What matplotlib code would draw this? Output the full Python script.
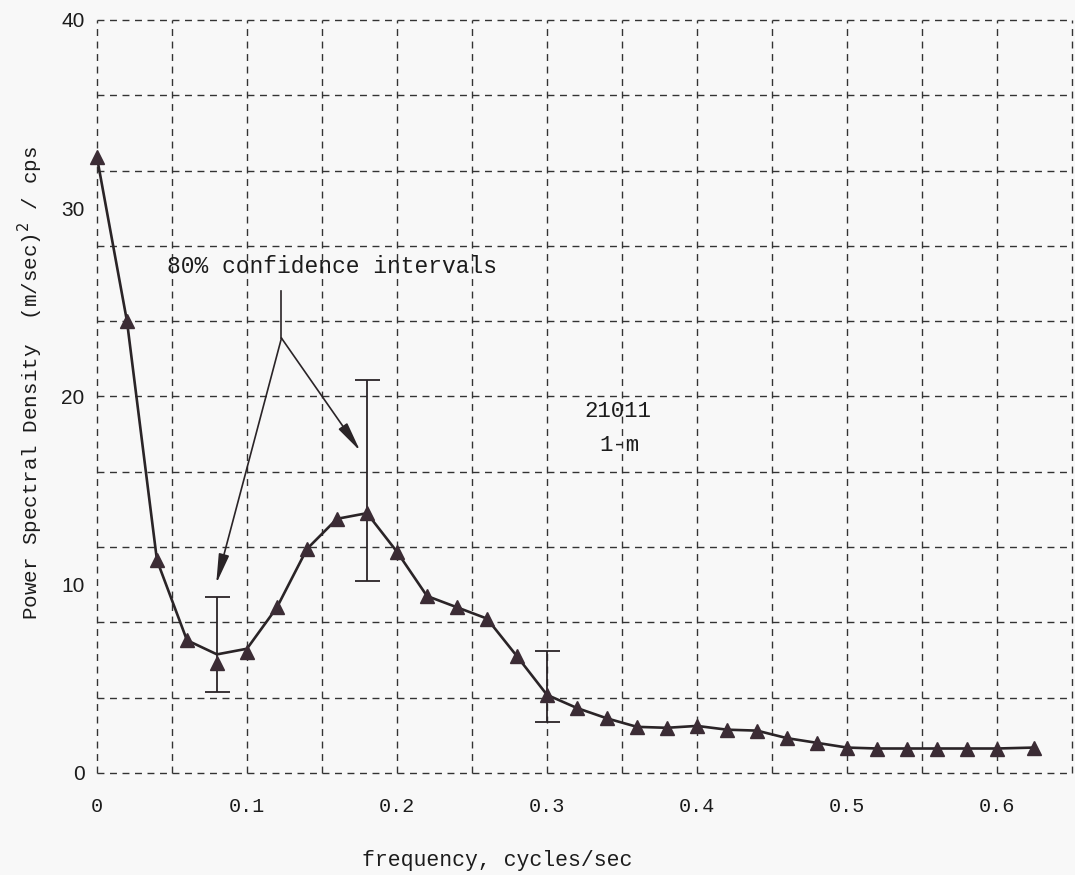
import matplotlib
matplotlib.use("Agg")
import matplotlib.pyplot as plt
from matplotlib.ticker import MultipleLocator, FixedLocator

# Spectral estimates, run 21011 at 1 m
freq = [0.00, 0.02, 0.04, 0.06, 0.08, 0.10, 0.12, 0.14, 0.16, 0.18,
        0.20, 0.22, 0.24, 0.26, 0.28, 0.30, 0.32, 0.34, 0.36, 0.38,
        0.40, 0.42, 0.44, 0.46, 0.48, 0.50, 0.52, 0.54, 0.56, 0.58,
        0.60, 0.625]
psd = [32.7, 24.0, 11.3, 7.05, 5.85, 6.4, 8.8, 11.9, 13.5, 13.8,
       11.75, 9.4, 8.8, 8.2, 6.2, 4.15, 3.45, 2.9, 2.45, 2.4,
       2.5, 2.3, 2.25, 1.85, 1.6, 1.35, 1.3, 1.3, 1.3, 1.3,
       1.3, 1.35]
# hand-faired curve through the estimates
psd_curve = [32.7, 24.0, 11.3, 7.05, 6.3, 6.6, 8.8, 11.9, 13.5, 13.8,
             11.75, 9.4, 8.8, 8.2, 6.2, 4.15, 3.45, 2.9, 2.45, 2.4,
             2.5, 2.3, 2.25, 1.85, 1.6, 1.35, 1.3, 1.3, 1.3, 1.3,
             1.3, 1.35]

# 80% confidence intervals
ci_freq = [0.08, 0.18, 0.30]
ci_low = [4.3, 10.2, 2.7]
ci_high = [9.35, 20.9, 6.5]
ci_mid = [6.3, 13.8, 4.15]

bg = "#f8f8f8"
ink = "#2a2427"
mark = "#3b2c35"
txt = "#1c1c1c"
mono = "Liberation Mono"

fig = plt.figure(figsize=(10.75, 8.75), dpi=100, facecolor=bg)
ax = fig.add_axes([0.0902, 0.1166, 0.907, 0.8606], facecolor=bg)

ax.plot(freq, psd_curve, "-", color=ink, lw=1.9, zorder=3, clip_on=False)
ax.plot(freq, psd, "^", color=mark, ms=9.5, mec=mark, zorder=4, clip_on=False)

ax.errorbar(ci_freq, ci_mid,
            yerr=[[m - l for m, l in zip(ci_mid, ci_low)],
                  [h - m for h, m in zip(ci_high, ci_mid)]],
            fmt="none", ecolor=ink, elinewidth=1.3, capsize=9, capthick=1.3,
            zorder=3)

# callout for the confidence intervals
ax.text(0.157, 26.9, "80% confidence intervals", fontsize=16.5,
        family=mono, color=txt, ha="center", va="center")
ax.plot([0.123, 0.123], [25.6, 23.1], color=ink, lw=1.2)
arrow = dict(arrowstyle="-|>,head_length=0.9,head_width=0.16",
             color=ink, lw=1.2, shrinkA=0, shrinkB=0, mutation_scale=20)
ax.annotate("", xy=(0.0795, 10.05), xytext=(0.123, 23.1), arrowprops=arrow)
ax.annotate("", xy=(0.1755, 17.1), xytext=(0.123, 23.1), arrowprops=arrow)

ax.text(0.347, 19.2, "21011", fontsize=16, family=mono, color=txt,
        ha="center", va="center")
ax.text(0.348, 17.4, "1-m", fontsize=16, family=mono, color=txt,
        ha="center", va="center")

ax.set_xlim(0, 0.65)
ax.set_ylim(0, 40)

# labels on the major ticks, dashed grid on every minor step
ax.xaxis.remove_overlapping_locs = False
ax.yaxis.remove_overlapping_locs = False
ax.xaxis.set_major_locator(FixedLocator([0, 0.1, 0.2, 0.3, 0.4, 0.5, 0.6]))
ax.set_xticklabels(["0", "0.1", "0.2", "0.3", "0.4", "0.5", "0.6"],
                   family=mono, fontsize=14.5)
ax.xaxis.set_minor_locator(MultipleLocator(0.05))
ax.yaxis.set_major_locator(MultipleLocator(10))
ax.yaxis.set_minor_locator(MultipleLocator(4))
for lab in ax.get_yticklabels():
    lab.set_family("Liberation Sans")
    lab.set_fontsize(15)
ax.tick_params(which="both", length=0, colors=txt)
ax.tick_params(axis="x", pad=17)
ax.tick_params(axis="y", pad=9)

ax.grid(which="minor", color="#333", lw=1.0, ls=(0, (5, 4)), clip_on=False)
ax.grid(which="major", visible=False)
for s in ax.spines.values():
    s.set_visible(False)

ax.set_xlabel("frequency, cycles/sec", family=mono, fontsize=15.5, color=txt)
ax.xaxis.set_label_coords(0.41, -0.102)
ax.set_ylabel("Power Spectral Density  (m/sec)$^2$ / cps", family=mono,
              fontsize=15, color=txt)
ax.yaxis.set_label_coords(-0.053, 0.518)

fig.savefig("out.png", dpi=100, facecolor=bg)
